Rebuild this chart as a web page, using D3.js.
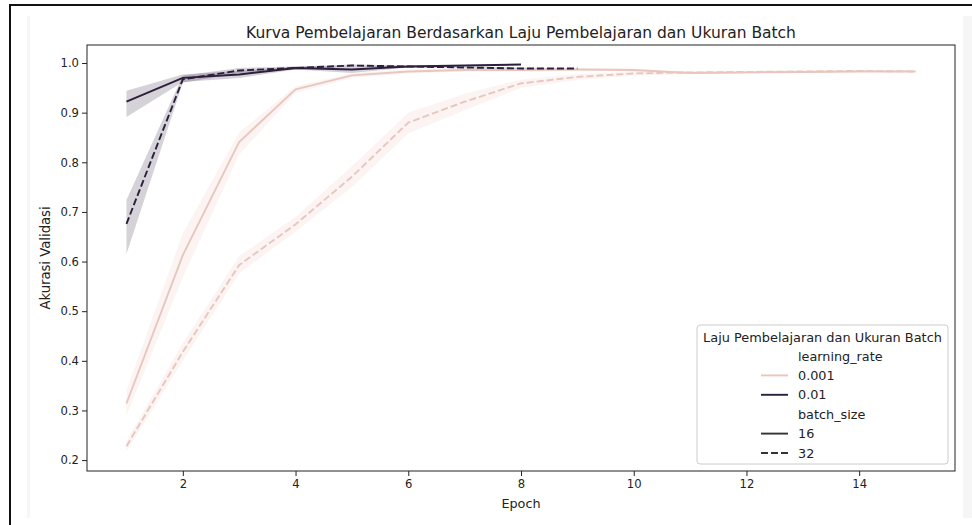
<!DOCTYPE html>
<html>
<head>
<meta charset="utf-8">
<script src="https://cdn.jsdelivr.net/npm/d3@7"></script>
<style>
  html, body { margin: 0; padding: 0; background: #fff; }
  svg { display: block; font-family: "DejaVu Sans", sans-serif; }
</style>
</head>
<body>
<svg id="chart" width="972" height="525"></svg>
<script>
// Validation accuracy per epoch, grouped by learning rate and batch size
const epochs = [1, 2, 3, 4, 5, 6, 7, 8, 9, 10, 11, 12, 13, 14, 15];

const lr001_bs16_mean = [0.314, 0.613, 0.841, 0.947, 0.975, 0.983, 0.986, 0.986, 0.987, 0.986, 0.980, 0.981, 0.982, 0.983, 0.983];
const lr001_bs16_lo   = [0.290, 0.568, 0.815, 0.940, 0.970, 0.979, 0.983, 0.983, 0.984, 0.983, 0.979, 0.980, 0.981, 0.982, 0.982];
const lr001_bs16_hi   = [0.340, 0.657, 0.860, 0.953, 0.980, 0.987, 0.989, 0.989, 0.990, 0.989, 0.981, 0.982, 0.983, 0.984, 0.984];

const lr001_bs32_mean = [0.228, 0.418, 0.593, 0.675, 0.771, 0.880, 0.922, 0.959, 0.972, 0.979, 0.981, 0.982, 0.983, 0.984, 0.983];
const lr001_bs32_lo   = [0.218, 0.400, 0.576, 0.660, 0.750, 0.858, 0.905, 0.950, 0.966, 0.975, 0.978, 0.980, 0.981, 0.982, 0.981];
const lr001_bs32_hi   = [0.238, 0.436, 0.611, 0.690, 0.792, 0.900, 0.938, 0.967, 0.978, 0.983, 0.984, 0.984, 0.985, 0.986, 0.985];

const lr01_bs16_mean = [0.922, 0.970, 0.977, 0.990, 0.987, 0.993, 0.995, 0.997];
const lr01_bs16_lo   = [0.891, 0.962, 0.970, 0.987, 0.980, 0.991, 0.994, 0.997];
const lr01_bs16_hi   = [0.944, 0.977, 0.984, 0.993, 0.993, 0.995, 0.996, 0.997];

const lr01_bs32_mean = [0.676, 0.967, 0.985, 0.990, 0.995, 0.993, 0.991, 0.989, 0.989];
const lr01_bs32_lo   = [0.615, 0.960, 0.980, 0.987, 0.993, 0.991, 0.989, 0.987, 0.989];
const lr01_bs32_hi   = [0.724, 0.975, 0.990, 0.993, 0.997, 0.995, 0.993, 0.991, 0.989];

const learningRates = ["0.001", "0.01"];
const batchSizes = ["16", "32"];
const yTicks = [0.2, 0.3, 0.4, 0.5, 0.6, 0.7, 0.8, 0.9, 1.0];
const xTicks = [2, 4, 6, 8, 10, 12, 14];

const titleText = "Kurva Pembelajaran Berdasarkan Laju Pembelajaran dan Ukuran Batch";
const xLabel = "Epoch";
const yLabel = "Akurasi Validasi";
const legendTitle = "Laju Pembelajaran dan Ukuran Batch";

const hueColor = d3.scaleOrdinal().domain(learningRates).range(["#e9c6bd", "#2d1e3e"]);
const dashFor = d3.scaleOrdinal().domain(batchSizes).range(["none", "7,3"]);

const series = [
  { lr: "0.001", bs: "16", mean: lr001_bs16_mean, lo: lr001_bs16_lo, hi: lr001_bs16_hi },
  { lr: "0.001", bs: "32", mean: lr001_bs32_mean, lo: lr001_bs32_lo, hi: lr001_bs32_hi },
  { lr: "0.01",  bs: "16", mean: lr01_bs16_mean,  lo: lr01_bs16_lo,  hi: lr01_bs16_hi },
  { lr: "0.01",  bs: "32", mean: lr01_bs32_mean,  lo: lr01_bs32_lo,  hi: lr01_bs32_hi }
];

const svg = d3.select("#chart");

// Notebook output frame
svg.append("line").attr("x1", 10).attr("x2", 972).attr("y1", 5).attr("y2", 5)
  .attr("stroke", "#111").attr("stroke-width", 2);
svg.append("line").attr("x1", 10).attr("x2", 10).attr("y1", 4).attr("y2", 525)
  .attr("stroke", "#111").attr("stroke-width", 2);
svg.append("rect").attr("x", 27).attr("y", 16).attr("width", 3).attr("height", 502).attr("fill", "#f6f6f6");
svg.append("rect").attr("x", 963).attr("y", 16).attr("width", 9).attr("height", 502).attr("fill", "#f6f6f6");

const plot = { left: 87, right: 955, top: 45, bottom: 471 };
const x = d3.scaleLinear().domain([0.3, 15.7]).range([plot.left, plot.right]);
const y = d3.scaleLinear().domain([0.178, 1.0363]).range([plot.bottom, plot.top]);

const g = svg.append("g");

// Confidence bands
series.forEach(s => {
  const pts = s.mean.map((m, i) => ({ e: epochs[i], lo: s.lo[i], hi: s.hi[i] }));
  g.append("path")
    .datum(pts)
    .attr("d", d3.area().x(d => x(d.e)).y0(d => y(d.lo)).y1(d => y(d.hi)))
    .attr("fill", hueColor(s.lr))
    .attr("fill-opacity", 0.2)
    .attr("stroke", "none");
});

// Mean lines
series.forEach(s => {
  const pts = s.mean.map((m, i) => ({ e: epochs[i], v: m }));
  g.append("path")
    .datum(pts)
    .attr("d", d3.line().x(d => x(d.e)).y(d => y(d.v)))
    .attr("fill", "none")
    .attr("stroke", hueColor(s.lr))
    .attr("stroke-width", 1.9)
    .attr("stroke-dasharray", dashFor(s.bs))
    .attr("stroke-linecap", "butt")
    .attr("stroke-linejoin", "round");
});

// Axes
const xAxis = svg.append("g")
  .attr("transform", `translate(0,${plot.bottom})`)
  .call(d3.axisBottom(x).tickValues(xTicks).tickFormat(d3.format("d")).tickSize(5).tickPadding(4).tickSizeOuter(0));
const yAxis = svg.append("g")
  .attr("transform", `translate(${plot.left},0)`)
  .call(d3.axisLeft(y).tickValues(yTicks).tickFormat(d3.format(".1f")).tickSize(5).tickPadding(3).tickSizeOuter(0));
[xAxis, yAxis].forEach(a => {
  a.select(".domain").remove();
  a.selectAll(".tick line").attr("stroke", "#222").attr("stroke-width", 1);
  a.selectAll(".tick text").attr("fill", "#222").style("font-size", "11.6px").style("font-family", "DejaVu Sans");
});

// Spines
svg.append("rect")
  .attr("x", plot.left).attr("y", plot.top)
  .attr("width", plot.right - plot.left).attr("height", plot.bottom - plot.top)
  .attr("fill", "none").attr("stroke", "#222").attr("stroke-width", 1);

// Title and axis labels
svg.append("text").attr("x", (plot.left + plot.right) / 2).attr("y", 38)
  .attr("text-anchor", "middle").style("font-size", "15.5px").attr("fill", "#222").text(titleText);
svg.append("text").attr("x", (plot.left + plot.right) / 2).attr("y", 508)
  .attr("text-anchor", "middle").style("font-size", "12.8px").attr("fill", "#222").text(xLabel);
svg.append("text").attr("transform", `translate(50,${(plot.top + plot.bottom) / 2}) rotate(-90)`)
  .attr("text-anchor", "middle").style("font-size", "13.2px").attr("fill", "#222").text(yLabel);

// Legend
const lg = svg.append("g").attr("transform", "translate(697,325)");
lg.append("rect").attr("width", 251).attr("height", 139).attr("rx", 3)
  .attr("fill", "#fff").attr("fill-opacity", 0.8).attr("stroke", "#ccc").attr("stroke-width", 1);
lg.append("text").attr("x", 125.5).attr("y", 16.5).attr("text-anchor", "middle")
  .style("font-size", "12.9px").attr("fill", "#222").text(legendTitle);

const legendRows = [
  { label: "learning_rate", stroke: null },
  { label: learningRates[0], stroke: hueColor(learningRates[0]), dash: "none" },
  { label: learningRates[1], stroke: hueColor(learningRates[1]), dash: "none" },
  { label: "batch_size", stroke: null },
  { label: batchSizes[0], stroke: "#333", dash: dashFor(batchSizes[0]) },
  { label: batchSizes[1], stroke: "#333", dash: dashFor(batchSizes[1]) }
];
legendRows.forEach((r, i) => {
  const cy = 31 + i * 19.4;
  if (r.stroke) {
    lg.append("line").attr("x1", 64).attr("x2", 91).attr("y1", cy).attr("y2", cy)
      .attr("stroke", r.stroke).attr("stroke-width", 1.9).attr("stroke-dasharray", r.dash);
  }
  lg.append("text").attr("x", 101).attr("y", cy + 4.5)
    .style("font-size", "12.8px").attr("fill", "#222").text(r.label);
});
</script>
</body>
</html>
